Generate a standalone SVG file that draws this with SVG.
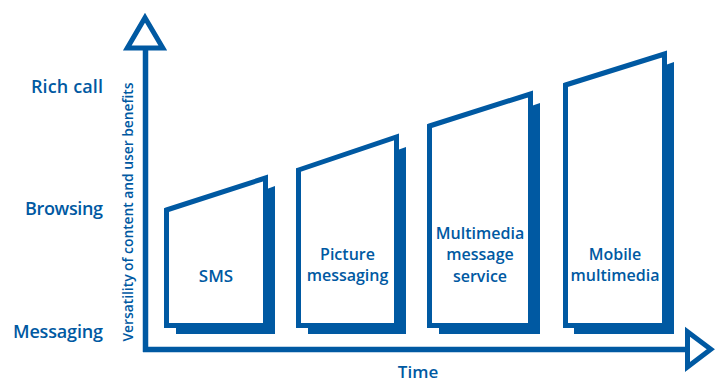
<svg xmlns="http://www.w3.org/2000/svg" width="715" height="382" viewBox="0 0 715 382">
<style>
.ax{fill:none;stroke:#0059A2;stroke-width:5.5}
.tri{fill:#fff;stroke:#0059A2;stroke-width:5;stroke-linejoin:miter}
.sh{fill:#0059A2}
.fr{fill:#fff;stroke:#0059A2;stroke-width:5;stroke-linejoin:miter}
text{font-family:"Open Sans","Liberation Sans",sans-serif;fill:#0059A2;font-weight:600}
.lv{font-size:18px;text-anchor:end}
.bl{font-size:16px;text-anchor:middle}
</style>
<rect width="715" height="382" fill="#fff"/>
<g id="axes">
<path class="ax" d="M145.5,48 V352 M143,349.5 H688"/>
<polygon class="tri" points="145,17.7 162.8,48 127.3,48"/>
<polygon class="tri" points="687.5,331.7 710.8,349.3 687.5,366.9"/>
<text x="418" y="378" style="font-size:17px" text-anchor="middle">Time</text>
<text transform="translate(133,212) rotate(-90)" style="font-size:15px" text-anchor="middle" textLength="259" lengthAdjust="spacingAndGlyphs">Versatility of content and user benefits</text>
</g>
<g id="levels">
<text class="lv" x="103" y="92.5" textLength="72">Rich call</text>
<text class="lv" x="103" y="215" textLength="78">Browsing</text>
<text class="lv" x="103" y="338" textLength="90">Messaging</text>
</g>
<g id="sms">
<polygon class="sh" points="176,222 275,186 275,334 176,334"/>
<polygon class="fr" points="166.5,210 265.5,178 265.5,325.5 166.5,325.5"/>
<text class="bl" x="216" y="281.5" style="font-size:17px">SMS</text>
</g>
<g id="picture">
<polygon class="sh" points="308,182 406,147 406,334 308,334"/>
<polygon class="fr" points="298.5,170 396.5,137 396.5,325.5 298.5,325.5"/>
<text class="bl" x="347.5" y="260">Picture</text>
<text class="bl" x="347.5" y="281">messaging</text>
</g>
<g id="mms">
<polygon class="sh" points="439,138 540,103 540,334 439,334"/>
<polygon class="fr" points="429.5,126 530.5,94 530.5,325.5 429.5,325.5"/>
<text class="bl" x="480" y="238.5">Multimedia</text>
<text class="bl" x="480" y="260">message</text>
<text class="bl" x="480" y="281.5">service</text>
</g>
<g id="mobile">
<polygon class="sh" points="574,97 674,62 674,334 574,334"/>
<polygon class="fr" points="565.5,85 664.5,54 664.5,325.5 565.5,325.5"/>
<text class="bl" x="615" y="260">Mobile</text>
<text class="bl" x="615" y="281">multimedia</text>
</g>
</svg>
